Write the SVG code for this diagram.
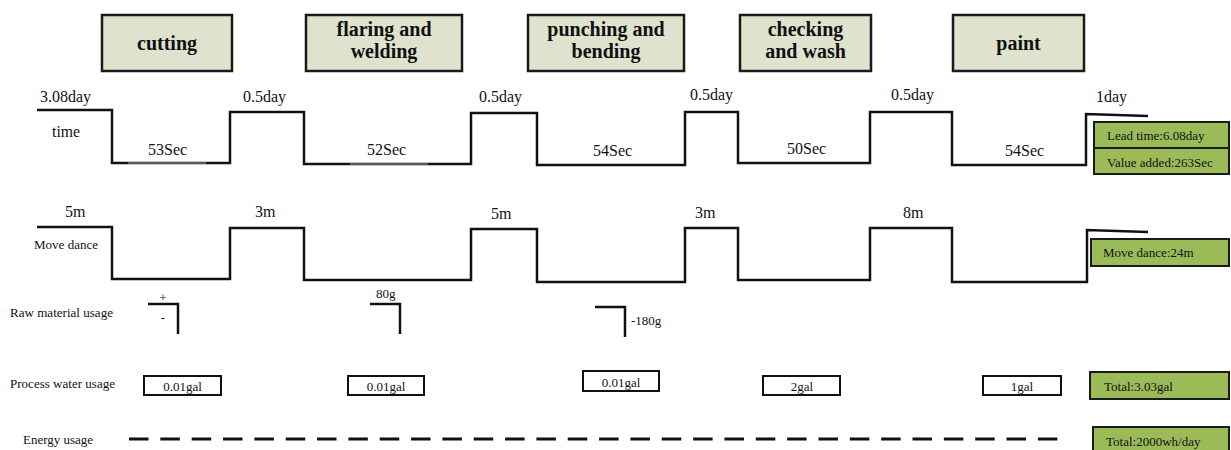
<svg xmlns="http://www.w3.org/2000/svg" width="1231" height="450" viewBox="0 0 1231 450">
<style>
.proc{fill:#dfe3ce;stroke:#1a1a1a;stroke-width:2.5}
.pt{font-family:"Liberation Serif","Times New Roman",serif;font-weight:bold;font-size:20px;fill:#111;text-anchor:middle}
.lbl{font-family:"Liberation Serif","Times New Roman",serif;font-size:16px;fill:#111}
.sm{font-family:"Liberation Serif","Times New Roman",serif;font-size:13px;fill:#111}
.mid{text-anchor:middle}
.step{fill:none;stroke:#111;stroke-width:2.5;stroke-linejoin:miter}
.gray{fill:none;stroke:#5a5a5a;stroke-width:2}
.wbox{fill:#fff;stroke:#111;stroke-width:2}
.gbox{fill:#9bbb59;stroke:#1a1a1a;stroke-width:2}
</style>
<rect width="1231" height="450" fill="#fff"/>

<g id="cutting"><rect class="proc" x="102" y="15" width="130" height="56"/><text class="pt" x="167" y="50">cutting</text></g>
<g id="flaring"><rect class="proc" x="306" y="15" width="156" height="56"/><text class="pt" x="384" y="36">flaring and</text><text class="pt" x="384" y="58">welding</text></g>
<g id="punching"><rect class="proc" x="528" y="15" width="156" height="56"/><text class="pt" x="606" y="36">punching and</text><text class="pt" x="606" y="58">bending</text></g>
<g id="checking"><rect class="proc" x="740" y="15" width="131" height="56"/><text class="pt" x="805.5" y="36">checking</text><text class="pt" x="805.5" y="58">and wash</text></g>
<g id="paint"><rect class="proc" x="953" y="15" width="131" height="56"/><text class="pt" x="1018.5" y="50">paint</text></g>

<g id="connectors">
<polyline class="step" points="37,110 112,110 112,163 230,163 230,112 304,112 304,164 471,164 471,113 537,113 537,165 685,165 685,112 738,112 738,163 870,163 870,112 952,112 952,165 1086,165 1086,114 1148,116"/>
<line class="gray" x1="128" y1="163" x2="206" y2="163"/>
<line class="gray" x1="350" y1="164" x2="428" y2="164"/>
<polyline class="step" points="37,227 112,227 112,279 230,279 230,228 304,228 304,280 471,280 471,229 537,229 537,282 685,282 685,228 738,228 738,280 870,280 870,228 952,228 952,282 1087,282 1087,230 1148,232"/>
<polyline class="step" points="148,304 178,304 178,334"/>
<polyline class="step" points="370,304 400,304 400,334"/>
<polyline class="step" points="595,307 625,307 625,337"/>
<line x1="129" y1="439" x2="1058" y2="439" stroke="#111" stroke-width="3" stroke-dasharray="19.5 11.84"/>
</g>

<g id="time-labels">
<text class="lbl" x="40" y="102">3.08day</text>
<text class="lbl" x="243" y="102">0.5day</text>
<text class="lbl" x="479" y="102">0.5day</text>
<text class="lbl" x="690" y="100">0.5day</text>
<text class="lbl" x="891" y="100">0.5day</text>
<text class="lbl" x="1096" y="102">1day</text>
<text class="lbl" x="52" y="137" font-size="15" textLength="28" lengthAdjust="spacingAndGlyphs">time</text>
<text class="lbl" x="148" y="155">53Sec</text>
<text class="lbl" x="367" y="155">52Sec</text>
<text class="lbl" x="593" y="156">54Sec</text>
<text class="lbl" x="787" y="154">50Sec</text>
<text class="lbl" x="1005" y="156">54Sec</text>
</g>

<g id="move-labels">
<text class="lbl" x="65" y="217">5m</text>
<text class="lbl" x="255" y="217">3m</text>
<text class="lbl" x="491" y="219">5m</text>
<text class="lbl" x="695" y="218">3m</text>
<text class="lbl" x="903" y="218">8m</text>
<text class="sm" x="34" y="249" font-size="14" textLength="64" lengthAdjust="spacingAndGlyphs">Move dance</text>
</g>

<g id="raw-material">
<text class="sm" x="10" y="317" font-size="14" textLength="103" lengthAdjust="spacingAndGlyphs">Raw material usage</text>
<text class="sm mid" x="163" y="302" font-size="16">+</text>
<text class="sm mid" x="163" y="322" font-size="15">-</text>
<text class="sm" x="376" y="298" font-size="14">80g</text>
<text class="sm" x="631" y="325" font-size="14">-180g</text>
</g>

<g id="water">
<text class="sm" x="10" y="388" font-size="14" textLength="105" lengthAdjust="spacingAndGlyphs">Process water usage</text>
<rect class="wbox" x="144" y="376" width="77" height="19"/><text class="sm mid" x="182.5" y="391">0.01gal</text>
<rect class="wbox" x="348" y="376" width="76" height="19"/><text class="sm mid" x="386" y="391">0.01gal</text>
<rect class="wbox" x="583" y="371" width="76" height="20"/><text class="sm mid" x="621" y="387">0.01gal</text>
<rect class="wbox" x="763" y="376" width="77" height="19"/><text class="sm mid" x="802" y="391">2gal</text>
<rect class="wbox" x="983" y="376" width="78" height="19"/><text class="sm mid" x="1022" y="391">1gal</text>
</g>

<g id="energy">
<text class="sm" x="23" y="444" font-size="14" textLength="70" lengthAdjust="spacingAndGlyphs">Energy usage</text>
</g>

<g id="summary-time">
<rect class="gbox" x="1094" y="122" width="135" height="26"/><text class="sm" x="1107" y="140">Lead time:6.08day</text>
<rect class="gbox" x="1094" y="148" width="135" height="26"/><text class="sm" x="1107" y="167">Value added:263Sec</text>
</g>
<g id="summary-move"><rect class="gbox" x="1091" y="239" width="138" height="27"/><text class="sm" x="1103" y="257">Move dance:24m</text></g>
<g id="summary-water"><rect class="gbox" x="1090" y="372" width="139" height="27"/><text class="sm" x="1104" y="391">Total:3.03gal</text></g>
<g id="summary-energy"><rect class="gbox" x="1093" y="427" width="136" height="30"/><text class="sm" x="1106" y="446">Total:2000wh/day</text></g>
</svg>
